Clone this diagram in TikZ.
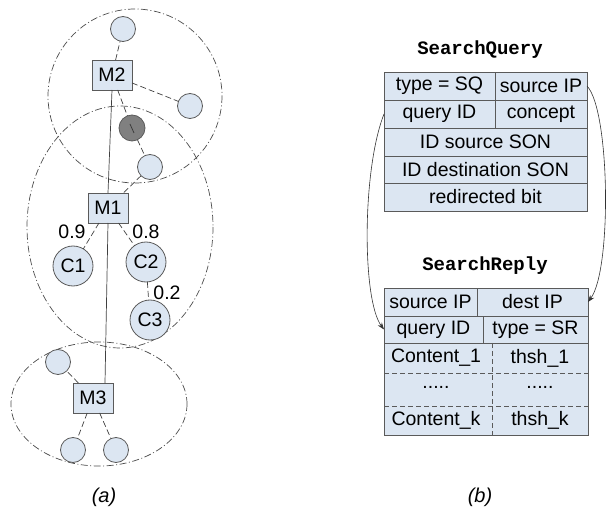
\documentclass[tikz,border=0pt]{standalone}
\usepackage{fontspec}
\setmainfont{Liberation Sans}
\newfontfamily\monob{Liberation Mono}
\usetikzlibrary{arrows.meta}
\definecolor{cellfill}{HTML}{DCE6F2}
\definecolor{edgec}{HTML}{5A5A5A}
\definecolor{grayn}{HTML}{808080}
\begin{document}
\begin{tikzpicture}[x=1pt,y=-1pt,
  every node/.style={font=\fontsize{19.5}{21}\selectfont, inner sep=0pt, outer sep=0pt},
  box/.style={draw=edgec, fill=cellfill, line width=0.8pt, minimum width=40, minimum height=30},
  sm/.style={circle, draw=edgec, fill=cellfill, line width=0.8pt, minimum size=25},
  cn/.style={circle, draw=edgec, fill=cellfill, line width=0.8pt, minimum size=40},
  gn/.style={circle, draw=edgec, fill=grayn, line width=0.8pt, minimum size=26},
  dl/.style={draw=black!75, line width=0.7pt, dash pattern=on 6pt off 3pt},
  ring/.style={draw=black!70, line width=0.7pt, dash pattern=on 7pt off 2.5pt on 1pt off 2.5pt},
  cell/.style={draw=edgec, fill=cellfill, line width=0.8pt},
  ttl/.style={font=\monob\bfseries\fontsize{19}{21}\selectfont},
  captxt/.style={font=\itshape\fontsize{20}{22}\selectfont},
  arr/.style={draw=black!80, line width=0.6pt, -{Stealth[length=7pt,width=5pt]}}
]
\useasboundingbox (0,0) rectangle (611,513);
% rings
\draw[ring] (135,96) circle [radius=87];
\draw[ring] (120,227) ellipse [x radius=93, y radius=121];
\draw[ring] (99,404) ellipse [x radius=88, y radius=62];
% nodes
\node[box] (M2) at (112,75) {M2};
\node[box] (M1) at (108,208) {M1};
\node[box] (M3) at (93,398) {M3};
\node[sm] (t1) at (123,29) {};
\node[sm] (r1) at (190,106) {};
\node[gn] (g1) at (132,128) {};
\node[sm] (n1) at (150,167) {};
\node[cn] (C1) at (73,266) {C1};
\node[cn] (C2) at (146,262) {C2};
\node[cn] (C3) at (150,320) {C3};
\node[sm] (u1) at (58,362) {};
\node[sm] (b1) at (73,450) {};
\node[sm] (b2) at (116,450) {};
% solid backbone
\draw[draw=black!75, line width=0.7pt] (M2.south) -- (M1.north);
\draw[draw=black!75, line width=0.7pt] (M1.south) -- ([xshift=12pt]M3.north);
% dashed links
\draw[dl] (M2) -- (t1);
\draw[dl] (M2) -- (r1);
\draw[dl] (M2) -- (g1);
\draw[dl] (g1) -- (n1);
\draw[draw=black!80, line width=0.7pt] ([shift={(-2,-4)}]g1.center) -- ([shift={(2,5)}]g1.center);
\draw[dl] (n1) -- (M1);
\draw[dl] (M1) -- (C1);
\draw[dl] (M1) -- (C2);
\draw[dl] (C2) -- (C3);
\draw[dl] (M3) -- (u1);
\draw[dl] (M3) -- (b1);
\draw[dl] (M3) -- (b2);
\node (l09) at (72,232) {0.9};
\node (l08) at (146,232) {0.8};
\node (l02) at (167,293) {0.2};
\node[captxt] (capa) at (104,497) {(a)};
% SearchQuery
\node[ttl] (sqt) at (480,50) {SearchQuery};
\node[cell, minimum width=111, minimum height=28] (sq1) at (439.5,86) {type = SQ};
\node[cell, minimum width=92, minimum height=28] (sip) at (541,86) {source IP};
\node[cell, minimum width=111, minimum height=28] (qid) at (439.5,114) {query ID};
\node[cell, minimum width=92, minimum height=28] (cpt) at (541,114) {concept};
\node[cell, minimum width=203, minimum height=28] (sson) at (485.5,142) {ID source SON};
\node[cell, minimum width=203, minimum height=27] (dson) at (485.5,169.5) {ID destination SON};
\node[cell, minimum width=203, minimum height=28] (rbit) at (485.5,197) {redirected bit};
% SearchReply
\node[ttl] (srt) at (485,266) {SearchReply};
\node[cell, minimum width=93, minimum height=28] (rsip) at (430.5,302) {source IP};
\node[cell, minimum width=111, minimum height=28] (dip) at (532.5,302) {dest IP};
\node[cell, minimum width=99, minimum height=27] (rqid) at (433.5,329.5) {query ID};
\node[cell, minimum width=105, minimum height=27] (rty) at (535.5,329.5) {type = SR};
\node[cell, minimum width=204, minimum height=92] (cont) at (486,389) {};
\draw[draw=edgec, line width=0.7pt, dash pattern=on 5pt off 3pt] (cont.north -| 492,0) -- (cont.south -| 492,0);
\draw[draw=edgec, line width=0.7pt, dash pattern=on 5pt off 3pt] (cont.west |- 0,373) -- (cont.east |- 0,373);
\draw[draw=edgec, line width=0.7pt, dash pattern=on 5pt off 3pt] (cont.west |- 0,406) -- (cont.east |- 0,406);
\node (c1) at (436,358) {Content\_1};
\node (h1) at (540,358) {thsh\_1};
\node (c2) at (436,387) {.....};
\node (h2) at (540,387) {.....};
\node (c3) at (436,420) {Content\_k};
\node (h3) at (540,420) {thsh\_k};
\node[captxt] (capb) at (480,497) {(b)};
% arrows
\draw[arr] (qid.west) .. controls (362,170) and (362,300) .. (rqid.west);
\draw[arr] (sip.east) .. controls (610,110) and (612,270) .. (dip.east);
\end{tikzpicture}
\end{document}
